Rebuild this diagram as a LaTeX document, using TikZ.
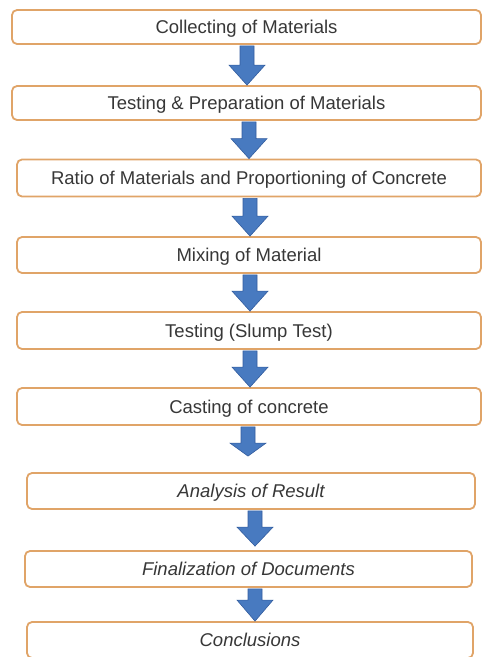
\documentclass[tikz,border=0pt]{standalone}
\usepackage{fontspec}
\setmainfont{Liberation Sans}
\usetikzlibrary{calc}
\definecolor{boxedge}{RGB}{224,164,104}
\definecolor{arrfill}{RGB}{72,122,192}
\definecolor{arredge}{RGB}{50,92,158}
\definecolor{txt}{RGB}{55,55,55}
\tikzset{
  stepbox/.style={draw=boxedge, line width=1.8pt, rounded corners=5pt, fill=white,
    inner sep=0pt, text height=13pt, text depth=0pt, text=txt, font=\fontsize{18.5}{20}\selectfont},
  itbox/.style={stepbox, font=\fontsize{18.5}{20}\selectfont\itshape},
  flowarr/.style={fill=arrfill, draw=arredge, line width=0.6pt, line join=miter}
}
% #1 from node, #2 to node, #3 x of arrow axis, #4 gap at start, #5 gap at end, #6 head length
\newcommand\flowarrow[6]{%
  \path let \p1=(#1.south), \p2=(#2.north) in
   [flowarr] (#3pt-7pt,\y1-#4pt) -- (#3pt+7pt,\y1-#4pt) -- (#3pt+7pt,\y2+#5pt+#6pt)
   -- (#3pt+18pt,\y2+#5pt+#6pt) -- (#3pt,\y2+#5pt) -- (#3pt-18pt,\y2+#5pt+#6pt)
   -- (#3pt-7pt,\y2+#5pt+#6pt) -- cycle;}
\begin{document}
\begin{tikzpicture}[x=1pt,y=-1pt]
\useasboundingbox (0,0) rectangle (482,657);
\node[stepbox, minimum width=469pt, minimum height=34pt] (b1) at (246.5,27) {Collecting of Materials};
\node[stepbox, minimum width=469pt, minimum height=34pt] (b2) at (246.5,103) {Testing \& Preparation of Materials};
\node[stepbox, minimum width=464pt, minimum height=37pt] (b3) at (249,178) {Ratio of Materials and Proportioning of Concrete};
\node[stepbox, minimum width=464pt, minimum height=36pt] (b4) at (249,255) {Mixing of Material};
\node[stepbox, minimum width=464pt, minimum height=37pt] (b5) at (249,330.5) {Testing (Slump Test)};
\node[stepbox, minimum width=464pt, minimum height=37pt] (b6) at (249,406.5) {Casting of concrete};
\node[itbox, minimum width=448pt, minimum height=36pt] (b7) at (251,491) {Analysis of Result};
\node[itbox, minimum width=447pt, minimum height=36pt] (b8) at (248.5,569) {Finalization of Documents};
\node[itbox, minimum width=446pt, minimum height=36pt] (b9) at (250,640) {Conclusions};
\flowarrow{b1}{b2}{247}{1}{0}{20}
\flowarrow{b2}{b3}{249}{1}{0}{20}
\flowarrow{b3}{b4}{250}{1}{0}{20}
\flowarrow{b4}{b5}{250}{1}{0}{20}
\flowarrow{b5}{b6}{250}{1}{0}{20}
\flowarrow{b6}{b7}{248}{1}{16}{13}
\flowarrow{b7}{b8}{255}{1}{4}{19}
\flowarrow{b8}{b9}{255}{1}{0}{21}
\end{tikzpicture}
\end{document}
